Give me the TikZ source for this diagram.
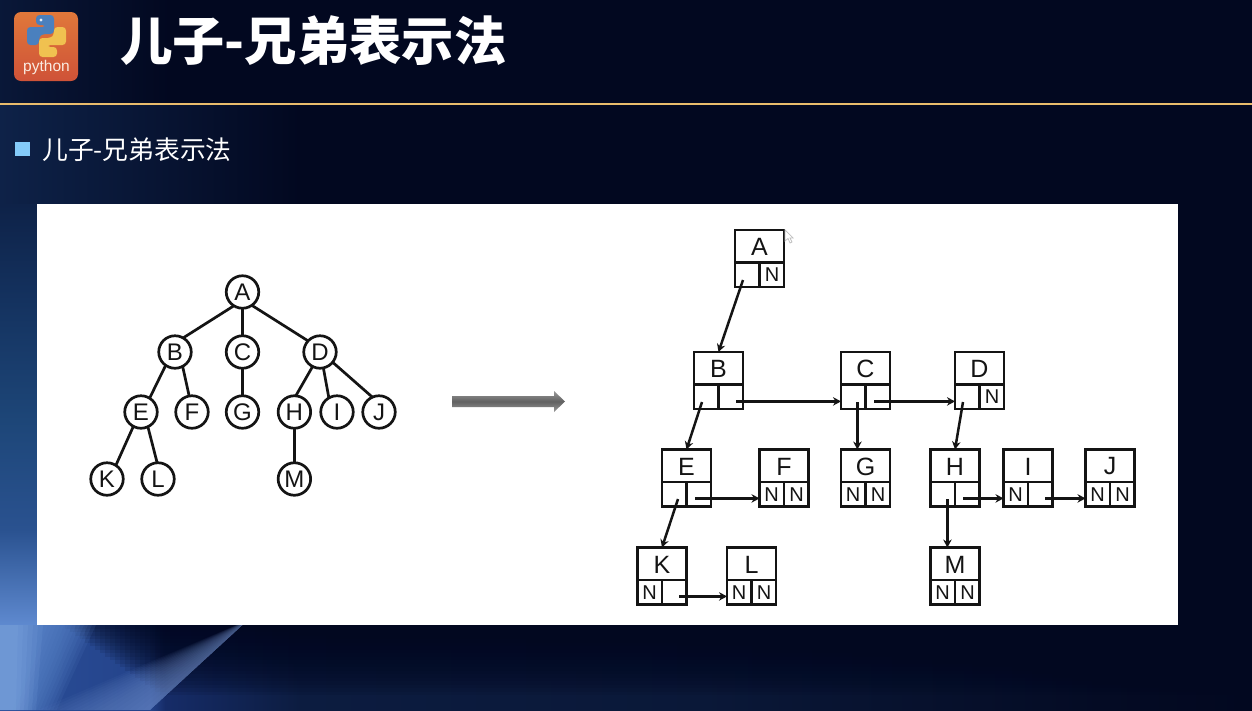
\documentclass[tikz,border=0pt]{standalone}
\usepackage{fontspec}
\setmainfont{Liberation Sans}
\newfontfamily\cjk{Noto Sans CJK SC}
\usetikzlibrary{arrows.meta}
\definecolor{bgbase}{HTML}{020820}
\definecolor{bgl}{HTML}{0E2248}
\definecolor{bgm}{HTML}{14325F}
\definecolor{bgn}{HTML}{1D4678}
\definecolor{bgo}{HTML}{2A5290}
\definecolor{bgp}{HTML}{5F8AD0}
\definecolor{bgq}{HTML}{9CC2F2}
\definecolor{bgr}{HTML}{7F9FDC}
\definecolor{banda}{HTML}{2A4E98}
\definecolor{bandb}{HTML}{24438A}
\definecolor{bandc}{HTML}{162C68}
\definecolor{bandd}{HTML}{0C1C40}
\definecolor{bande}{HTML}{0A1838}
\definecolor{bandf}{HTML}{040B24}
\definecolor{ink}{HTML}{141414}
\definecolor{rulecol}{HTML}{E9BC6C}
\definecolor{bulletcol}{HTML}{84CBF9}
\definecolor{iconhi}{HTML}{E0783A}
\definecolor{iconlo}{HTML}{CF5238}
\definecolor{snakeb}{HTML}{4A80BE}
\definecolor{snakey}{HTML}{F0C150}
\pgfdeclarehorizontalshading{bandshade}{100bp}{
  color(0bp)=(banda);
  color(25bp)=(banda);
  color(31bp)=(bandb);
  color(31.6bp)=(bandc);
  color(37bp)=(bandd);
  color(53bp)=(bande);
  color(69bp)=(bandf);
  color(75bp)=(bgbase);
  color(100bp)=(bgbase)}
\tikzset{
  treenode/.style={circle,draw=ink,line width=2.7pt,fill=white,minimum size=32.5pt,inner sep=0pt,outer sep=0pt,font=\fontsize{24}{24}\selectfont,text=ink},
  treeedge/.style={draw=ink,line width=2.7pt},
  listbox/.style={rectangle,draw=ink,line width=2.6pt,minimum width=49pt,minimum height=57pt,inner sep=0pt,outer sep=0pt},
  listdiv/.style={draw=ink,line width=2.6pt},
  boxletter/.style={inner sep=0pt,font=\fontsize{25}{25}\selectfont,text=ink},
  boxnil/.style={inner sep=0pt,font=\fontsize{20}{20}\selectfont,text=ink},
  listarrow/.style={draw=ink,line width=2.5pt,-{Stealth[length=8pt,width=8.5pt]}},
}
\newcommand{\lbox}[6]{%
  \node[listbox] (#1) at (#2,#3) {};
  \draw[listdiv] ([yshift=-4pt]#1.west) -- ([yshift=-4pt]#1.east);
  \draw[listdiv] ([yshift=-4pt]#1.center) -- (#1.south);
  \node[boxletter] (#1t) at ([yshift=11.5pt]#1.center) {#4};
  \node[boxnil] (#1a) at ([shift={(-12.5pt,-16.5pt)}]#1.center) {#5};
  \node[boxnil] (#1b) at ([shift={(12.5pt,-16.5pt)}]#1.center) {#6};
}
\begin{document}
\begin{tikzpicture}[x=1pt,y=-1pt]
\useasboundingbox (0,0) rectangle (1252,710);
\begin{scope}
\clip (0,0) rectangle (1252,710);
\fill[bgbase] (0,0) rectangle (1252,710);
% upper-left tint
\shade[left color=bgl!60!bgbase,right color=bgbase] (0,0) rectangle (170,104);
\shade[left color=bgl,right color=bgbase] (0,104) rectangle (300,205);
% left margin beside the panel
\shade[top color=bgl,bottom color=bgm] (0,204) rectangle (37,300);
\shade[top color=bgm,bottom color=bgn] (0,300) rectangle (37,420);
\shade[top color=bgn,bottom color=bgo] (0,420) rectangle (37,530);
\shade[top color=bgo,bottom color=bgp] (0,530) rectangle (37,626);
% band under the panel
\shade[shading=bandshade] (0,625) rectangle (1252,710);
% darkening towards the panel edge
\foreach \i in {1,...,20}{
  \fill[bgbase,opacity=.1] ({60+5*\i},625) -- (1252,625) -- (1252,{625+3.5*\i}) -- ({60+5*\i},{625+3.5*\i}) -- cycle;
}
% streak, bright near its sharp right edge and towards the bottom
\foreach \i in {1,...,16}{
  \fill[bgr,opacity=.05] (248,620) -- (150,710) -- ({150-7*\i},710) -- cycle;
}
% pale wedge in the corner
\foreach \i in {1,...,14}{
  \fill[bgp,opacity=.11] (0,625) -- ({100-4*\i},625) -- ({60-3.4*\i},710) -- (0,710) -- cycle;
}
\foreach \i in {1,...,6}{
  \fill[bgq,opacity=.09] (0,625) -- ({48-5*\i},625) -- ({40-4*\i},710) -- (0,710) -- cycle;
}
\end{scope}
% header
\draw[rulecol,line width=1.6pt] (0,104) -- (1252,104);
\node[inner sep=0pt,anchor=west,text=white,font=\cjk\bfseries\fontsize{52.3}{53}\selectfont] (title) at (120,41) {儿子-兄弟表示法};
\fill[bulletcol] (15,142) rectangle (30,156);
\node[inner sep=0pt,anchor=west,text=white,font=\cjk\fontsize{25.8}{26}\selectfont] (sub) at (42,150) {儿子-兄弟表示法};
% icon
\shade[rounded corners=7pt,top color=iconhi,bottom color=iconlo] (14,12) rectangle (78,81);
\begin{scope}[rounded corners=3.5pt]
  \fill[snakeb] (36,15)--(54,15)--(54,34)--(42,34)--(39,37)--(39,45)--(27,45)--(27,27)--(46,27)--(46,25)--(36,25)--cycle;
  \fill[snakey] (57,57)--(39,57)--(39,38)--(51,38)--(54,35)--(54,27)--(66,27)--(66,45)--(47,45)--(47,47)--(57,47)--cycle;
\end{scope}
\fill[white!85!snakeb] (41,20) circle (1.7);
\node[inner sep=0pt,text=white!85!iconhi,font=\fontsize{15.5}{16}\selectfont] (py) at (46.5,67) {python};
% panel
\fill[white] (37,204) rectangle (1178,625);
% tree
\node[treenode] (A) at (242.5,292) {A};
\node[treenode] (B) at (175,352) {B};
\node[treenode] (C) at (242.5,352) {C};
\node[treenode] (D) at (320,352) {D};
\node[treenode] (E) at (141,412) {E};
\node[treenode] (F) at (192,412) {F};
\node[treenode] (G) at (242.5,412) {G};
\node[treenode] (H) at (294.4,412) {H};
\node[treenode] (I) at (337,412) {I};
\node[treenode] (J) at (379,412) {J};
\node[treenode] (K) at (107,479) {K};
\node[treenode] (L) at (158,479) {L};
\node[treenode] (M) at (294.4,479) {M};
\draw[treeedge] (A.238) -- (B.60);
\draw[treeedge] (A.south) -- (C.north);
\draw[treeedge] (A.-55) -- (D.137);
\draw[treeedge] (B.235) -- (E.58);
\draw[treeedge] (B.-62) -- (F.100);
\draw[treeedge] (C.south) -- (G.north);
\draw[treeedge] (D.243) -- (H.85);
\draw[treeedge] (D.-78) -- (I.120);
\draw[treeedge] (D.-39) -- (J.114);
\draw[treeedge] (E.242) -- (K.57);
\draw[treeedge] (E.-65) -- (L.93);
\draw[treeedge] (H.south) -- (M.north);
% block arrow
\shade[top color=black!40,bottom color=black!40,middle color=black!62]
  (452,396) -- (554,396) -- (554,391) -- (565,401.5) -- (554,412) -- (554,407) -- (452,407) -- cycle;
% list boxes
\lbox{lA}{759.5}{258.5}{A}{}{N}
\lbox{lB}{718.5}{380.5}{B}{}{}
\lbox{lC}{865.5}{380.5}{C}{}{}
\lbox{lD}{979.5}{380.5}{D}{}{N}
\lbox{lE}{686.5}{478}{E}{}{}
\lbox{lF}{784}{478}{F}{N}{N}
\lbox{lG}{865.5}{478}{G}{N}{N}
\lbox{lH}{955}{478}{H}{}{}
\lbox{lI}{1028}{478}{I}{N}{}
\lbox{lJ}{1110}{478}{J}{N}{N}
\lbox{lK}{662}{576}{K}{N}{}
\lbox{lL}{751.5}{576}{L}{N}{N}
\lbox{lM}{955}{576}{M}{N}{N}
\coordinate (tA) at (743,280);
\coordinate (tBl) at (702,402);
\coordinate (tBr) at (736,401.4);
\coordinate (tCl) at (857.4,402);
\coordinate (tCr) at (874,401.4);
\coordinate (tDl) at (963,402);
\coordinate (tEl) at (678,499);
\coordinate (tEr) at (695,498.4);
\coordinate (tHl) at (947.4,499);
\coordinate (tHr) at (963,498.4);
\coordinate (tIr) at (1045,498.4);
\coordinate (tKr) at (679,596.4);
\draw[listarrow] (tA) -- (lB.north);
\draw[listarrow] (tBl) -- (lE.north);
\draw[listarrow] (tBr) -- (tBr -| lC.west);
\draw[listarrow] (tCl) -- (tCl |- lG.north);
\draw[listarrow] (tCr) -- (tCr -| lD.west);
\draw[listarrow] (tDl) -- (lH.north);
\draw[listarrow] (tEl) -- (lK.north);
\draw[listarrow] (tEr) -- (tEr -| lF.west);
\draw[listarrow] (tHl) -- (tHl |- lM.north);
\draw[listarrow] (tHr) -- (tHr -| lI.west);
\draw[listarrow] (tIr) -- (tIr -| lJ.west);
\draw[listarrow] (tKr) -- (tKr -| lL.west);
% mouse pointer
\draw[black!25,line width=.7pt,fill=white] (785,230) -- (785,241) -- (788,238.5) -- (790,243) -- (792,242) -- (790,238) -- (793,238) -- cycle;
\end{tikzpicture}
\end{document}
